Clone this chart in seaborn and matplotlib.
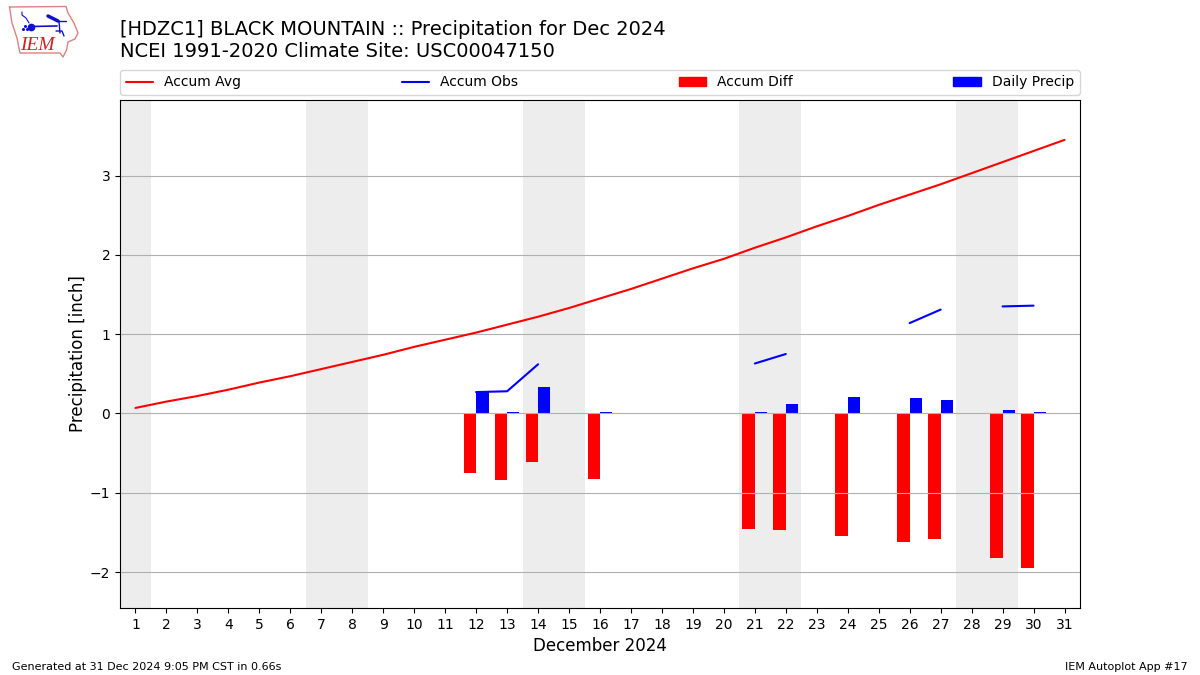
import numpy as np
import pandas as pd
import matplotlib
matplotlib.use("Agg")
import matplotlib.pyplot as plt
from matplotlib.patches import Patch
from matplotlib.lines import Line2D
import seaborn as sns

nan = np.nan
days = list(range(1, 32))
accum_avg = [0.07, 0.15, 0.22, 0.30, 0.39, 0.47, 0.56, 0.65, 0.74, 0.84, 0.93, 1.02, 1.12, 1.22, 1.33, 1.45,
             1.57, 1.70, 1.83, 1.95, 2.09, 2.22, 2.36, 2.49, 2.63, 2.76, 2.89, 3.03, 3.17, 3.31, 3.45]
accum_obs = [nan]*11 + [0.27, 0.28, 0.62, nan, 0.63, nan, nan, nan, nan, 0.63, 0.75, nan, 0.95, nan, 1.14, 1.31, nan, 1.35, 1.36, nan]
accum_diff = [nan]*11 + [-0.75, -0.84, -0.61, nan, -0.83, nan, nan, nan, nan, -1.46, -1.47, nan, -1.54, nan, -1.62, -1.58, nan, -1.82, -1.95, nan]
daily_precip = [nan]*11 + [0.27, 0.02, 0.33, nan, 0.02, nan, nan, nan, nan, 0.02, 0.115, nan, 0.205, nan, 0.19, 0.165, nan, 0.045, 0.02, nan]
weekends = [(0.5, 1.5), (6.5, 8.5), (13.5, 15.5), (20.5, 22.5), (27.5, 29.5)]

sns.set_theme(style="ticks", rc={"axes.grid": False})
plt.rcParams["font.family"] = ["DejaVu Sans"]
plt.rcParams["axes.edgecolor"] = "black"
plt.rcParams["text.color"] = "black"
plt.rcParams["axes.labelcolor"] = "black"
plt.rcParams["xtick.color"] = "black"
plt.rcParams["ytick.color"] = "black"

fig = plt.figure(figsize=(12, 6.75), dpi=100)
ax = fig.add_axes([120/1200, 1-608/675, 960/1200, 508/675])

for a, b in weekends:
    ax.axvspan(a, b, facecolor="lightgray", alpha=0.4, edgecolor="none", zorder=0.5)

bars = pd.DataFrame({
    "day": days * 2,
    "value": accum_diff + daily_precip,
    "series": ["Accum Diff"] * 31 + ["Daily Precip"] * 31,
})
sns.barplot(data=bars, x="day", y="value", hue="series", native_scale=True, width=0.8, gap=0,
            palette={"Accum Diff": "red", "Daily Precip": "blue"}, errorbar=None,
            saturation=1, legend=False, linewidth=0, edgecolor="none", ax=ax)

sns.lineplot(x=days, y=accum_avg, color="red", lw=1.5, estimator=None, ax=ax, legend=False)
obs = pd.DataFrame({"day": days, "obs": accum_obs})
obs["run"] = obs["obs"].isna().cumsum()
obs = obs.dropna()
sns.lineplot(data=obs, x="day", y="obs", units="run", color="blue", lw=1.5, estimator=None, ax=ax, legend=False)

ax.set_xlim(0.5, 31.5)
ax.set_ylim(-2.453, 3.953)
ax.set_xticks(days)
ax.set_xticklabels([str(d) for d in days], fontsize=10)
ax.set_yticks([-2, -1, 0, 1, 2, 3])
ax.set_yticklabels(["\u22122", "\u22121", "0", "1", "2", "3"], fontsize=10)
ax.tick_params(length=3.5, width=0.8, pad=3.5)
ax.yaxis.grid(True, color="#b0b0b0", lw=0.8)
ax.set_axisbelow("line")
ax.set_xlabel("December 2024", fontsize=12, labelpad=4)
ax.set_ylabel("Precipitation [inch]", fontsize=12, labelpad=2)
for s in ax.spines.values():
    s.set_linewidth(0.8)
    s.set_visible(True)

handles = [Line2D([], [], color="red", lw=1.5), Line2D([], [], color="blue", lw=1.5),
           Patch(color="red"), Patch(color="blue")]
ax.legend(handles, ["Accum Avg", "Accum Obs", "Accum Diff", "Daily Precip"], ncol=4, mode="expand",
          loc="lower left", bbox_to_anchor=(0, 1.0098, 1, 0.05), borderaxespad=0, fontsize=10,
          frameon=True, edgecolor="#cccccc", framealpha=0.8)

fig.text(120/1200, 1-61/675, "[HDZC1] BLACK MOUNTAIN :: Precipitation for Dec 2024\nNCEI 1991-2020 Climate Site: USC00047150",
         fontsize=14, ha="left", va="bottom", linespacing=1.2)
fig.text(12/1200, 1-667/675, "Generated at 31 Dec 2024 9:05 PM CST in 0.66s", fontsize=8, ha="left", va="center")
fig.text(1188/1200, 1-667/675, "IEM Autoplot App #17", fontsize=8, ha="right", va="center")

# logo, drawn in a pixel-space overlay
logo = fig.add_axes([0, 0, 1, 1], facecolor="none")
logo.set_xlim(0, 1200)
logo.set_ylim(675, 0)
logo.axis("off")
outline_x = [9.5, 66, 68, 74, 78, 75, 68, 66.5, 63, 60, 20, 17, 12, 9.5]
outline_y = [7, 6.5, 13, 23, 33, 39, 42, 50, 57, 53, 53, 38, 23, 7]
logo.plot(outline_x, outline_y, color="#e08080", lw=1)
logo.plot([31, 57], [26.5, 26], color="#1010d0", lw=1.2)
logo.plot([57, 66], [21, 21], color="#1010d0", lw=1)
logo.plot([59, 60], [21, 33], color="#1010d0", lw=1)
logo.plot([31], [26.5], "o", color="#1010d0", ms=4.5)
logo.plot([22, 22, 26, 29], [12, 15, 18, 23], color="#1010d0", lw=0.8)
logo.plot([48, 58], [16, 21], color="#1010d0", lw=2.5)
logo.plot([56, 62, 64], [31, 31, 36], color="#1010d0", lw=1)
logo.plot([23, 25, 27], [29, 26, 29], "o", color="#1010d0", ms=1.2)
logo.text(37.5, 45, "IEM", family="Liberation Serif", style="italic", fontsize=14, color="#d02020", ha="center", va="center")

fig.savefig("out.png", dpi=100)
